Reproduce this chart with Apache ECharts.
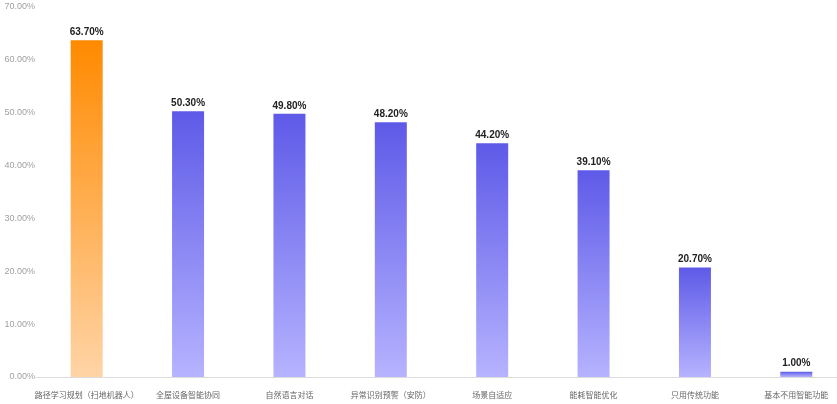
<!DOCTYPE html>
<html><head><meta charset="utf-8">
<script src="https://cdn.jsdelivr.net/npm/echarts@6/dist/echarts.min.js"></script>
<style>html,body{margin:0;padding:0;background:#fff}#c{width:837px;height:404px}</style>
</head><body><div id="c"></div>
<script>
var categories = ['路径学习规划（扫地机器人）','全屋设备智能协同','自然语言对话','异常识别预警（安防）','场景自适应','能耗智能优化','只用传统功能','基本不用智能功能'];
var values = [63.7, 50.3, 49.8, 48.2, 44.2, 39.1, 20.7, 1.0];
var yTicks = [0, 10, 20, 30, 40, 50, 60, 70];

var orange = new echarts.graphic.LinearGradient(0,0,0,1,[{offset:0,color:'#FF8A00'},{offset:1,color:'#FFD4A6'}]);
var purple = new echarts.graphic.LinearGradient(0,0,0,1,[{offset:0,color:'#5E5AE8'},{offset:1,color:'#B6B3FF'}]);

var chart = echarts.init(document.getElementById('c'));
chart.setOption({
  animation:false,
  grid:{left:36, top:7, width:811, bottom:27, containLabel:false, outerBoundsMode:'none'},
  xAxis:{type:'category', data:categories,
    axisLine:{lineStyle:{color:'#dcdcdc'}}, axisTick:{show:false},
    axisLabel:{color:'#666', fontSize:8, interval:0, margin:14, fontFamily:'Noto Sans CJK SC'}},
  yAxis:{type:'value', min:yTicks[0], max:yTicks[yTicks.length-1], interval:10,
    axisLine:{show:false}, axisTick:{show:false}, splitLine:{show:false},
    axisLabel:{color:'#a0a0a0', fontSize:9, margin:1, formatter:function(v){return v.toFixed(2)+'%';}}},
  series:[{type:'bar', barWidth:32,
    data: values.map(function(v,i){return {value:v, itemStyle:{color: i===0?orange:purple}};}),
    label:{show:true, position:'top', distance:3, color:'#222', fontWeight:'bold', fontSize:10,
      formatter:function(p){return p.value.toFixed(2)+'%';}}
  }]
});
</script></body></html>
